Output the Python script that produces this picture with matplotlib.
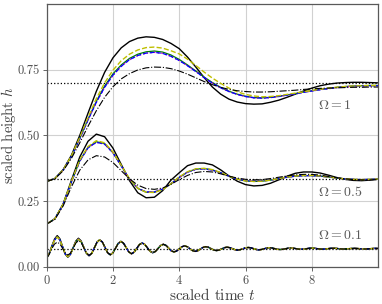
import numpy as np
import matplotlib
matplotlib.use("Agg")
import matplotlib.pyplot as plt
from matplotlib.ticker import FormatStrFormatter

plt.rcParams['font.family'] = 'serif'
plt.rcParams['font.serif'] = ['cmr10']
plt.rcParams['mathtext.fontset'] = 'cm'
plt.rcParams['axes.unicode_minus'] = False
plt.rcParams['axes.formatter.use_mathtext'] = True

# time samples (read every 0.25 for the slow cases, every 0.08 for Omega = 0.1)
t_slow = np.linspace(0, 10, 41)
t_fast = np.linspace(0, 10, 126)

# steady state heights
steady = [0.700, 0.333, 0.069]

# ---- Omega = 1 ----
h1_black = [0.325, 0.336, 0.370, 0.425, 0.500, 0.585, 0.668, 0.740, 0.795, 0.833,
            0.857, 0.870, 0.875, 0.873, 0.865, 0.850, 0.830, 0.798, 0.760, 0.720,
            0.684, 0.657, 0.638, 0.627, 0.621, 0.619, 0.620, 0.626, 0.634, 0.645,
            0.657, 0.669, 0.680, 0.689, 0.695, 0.699, 0.701, 0.702, 0.702, 0.701, 0.700]
h1_yellow = [0.325, 0.336, 0.369, 0.422, 0.492, 0.568, 0.640, 0.700, 0.748, 0.784,
             0.809, 0.825, 0.834, 0.836, 0.832, 0.822, 0.810, 0.790, 0.766, 0.741,
             0.718, 0.698, 0.680, 0.666, 0.656, 0.650, 0.647, 0.648, 0.651, 0.656,
             0.661, 0.666, 0.671, 0.676, 0.680, 0.683, 0.686, 0.688, 0.689, 0.690, 0.690]
h1_green = [0.325, 0.336, 0.369, 0.421, 0.489, 0.562, 0.630, 0.688, 0.734, 0.768,
            0.793, 0.809, 0.818, 0.821, 0.817, 0.806, 0.789, 0.768, 0.745, 0.722,
            0.701, 0.683, 0.668, 0.657, 0.649, 0.644, 0.643, 0.645, 0.649, 0.654,
            0.659, 0.665, 0.670, 0.675, 0.679, 0.683, 0.686, 0.688, 0.689, 0.690, 0.690]
h1_blue = [0.325, 0.336, 0.368, 0.420, 0.487, 0.559, 0.626, 0.683, 0.729, 0.763,
           0.788, 0.804, 0.813, 0.816, 0.812, 0.801, 0.785, 0.765, 0.743, 0.720,
           0.699, 0.681, 0.667, 0.656, 0.648, 0.643, 0.642, 0.644, 0.648, 0.653,
           0.658, 0.664, 0.669, 0.674, 0.678, 0.682, 0.685, 0.687, 0.688, 0.689, 0.689]
h1_dashdot = [0.325, 0.335, 0.366, 0.413, 0.472, 0.535, 0.594, 0.645, 0.685, 0.715,
              0.735, 0.749, 0.757, 0.760, 0.759, 0.754, 0.745, 0.733, 0.719, 0.705,
              0.693, 0.683, 0.675, 0.670, 0.667, 0.665, 0.665, 0.666, 0.668, 0.670,
              0.672, 0.675, 0.677, 0.679, 0.680, 0.681, 0.682, 0.683, 0.683, 0.684, 0.684]

# ---- Omega = 0.5 ----
h05_black = [0.163, 0.183, 0.240, 0.330, 0.418, 0.478, 0.505, 0.495, 0.452, 0.390,
             0.328, 0.282, 0.263, 0.265, 0.290, 0.330, 0.358, 0.385, 0.395, 0.395,
             0.388, 0.369, 0.346, 0.326, 0.313, 0.308, 0.310, 0.318, 0.331, 0.345,
             0.356, 0.361, 0.361, 0.357, 0.349, 0.340, 0.333, 0.329, 0.328, 0.330, 0.334]
h05_yellow = [0.163, 0.183, 0.239, 0.325, 0.406, 0.458, 0.480, 0.472, 0.437, 0.386,
              0.335, 0.299, 0.284, 0.283, 0.294, 0.316, 0.342, 0.362, 0.373, 0.375,
              0.370, 0.359, 0.345, 0.334, 0.327, 0.325, 0.326, 0.330, 0.336, 0.342,
              0.346, 0.348, 0.348, 0.346, 0.342, 0.338, 0.335, 0.333, 0.332, 0.333, 0.334]
h05_green = [0.163, 0.183, 0.239, 0.324, 0.404, 0.455, 0.476, 0.469, 0.435, 0.385,
             0.334, 0.299, 0.284, 0.284, 0.295, 0.316, 0.341, 0.361, 0.372, 0.374,
             0.369, 0.358, 0.345, 0.334, 0.327, 0.325, 0.326, 0.330, 0.336, 0.341,
             0.345, 0.347, 0.347, 0.345, 0.342, 0.338, 0.335, 0.333, 0.332, 0.333, 0.334]
h05_blue = [0.163, 0.183, 0.238, 0.323, 0.402, 0.453, 0.474, 0.467, 0.434, 0.384,
            0.334, 0.299, 0.285, 0.285, 0.296, 0.316, 0.340, 0.360, 0.371, 0.373,
            0.368, 0.358, 0.345, 0.334, 0.328, 0.326, 0.327, 0.330, 0.336, 0.341,
            0.345, 0.347, 0.347, 0.345, 0.342, 0.338, 0.335, 0.333, 0.332, 0.333, 0.334]
h05_dashdot = [0.163, 0.181, 0.232, 0.305, 0.368, 0.407, 0.423, 0.418, 0.397, 0.366,
               0.335, 0.311, 0.298, 0.295, 0.300, 0.314, 0.332, 0.348, 0.359, 0.363,
               0.361, 0.354, 0.345, 0.338, 0.333, 0.331, 0.332, 0.336, 0.341, 0.346,
               0.350, 0.352, 0.352, 0.349, 0.344, 0.339, 0.335, 0.332, 0.331, 0.331, 0.332]

# ---- Omega = 0.1 ----
h01_black = [0.033, 0.052, 0.080, 0.106, 0.119, 0.107, 0.078, 0.049, 0.037,
             0.048, 0.073, 0.098, 0.109, 0.099, 0.0755, 0.052, 0.042,
             0.051, 0.0725, 0.094, 0.103, 0.095, 0.0745, 0.054, 0.046,
             0.0535, 0.0715, 0.0895, 0.097, 0.090, 0.0735, 0.057, 0.050,
             0.056, 0.0705, 0.085, 0.091, 0.0855, 0.0725, 0.0595, 0.054,
             0.0587, 0.070, 0.0813, 0.086, 0.0818, 0.0715, 0.0612, 0.057,
             0.0604, 0.0685, 0.0766, 0.080, 0.0769, 0.0695, 0.0621, 0.059,
             0.0616, 0.068, 0.0744, 0.077, 0.0748, 0.0695, 0.0642, 0.062,
             0.0639, 0.0685, 0.0731, 0.075, 0.0734, 0.0695, 0.0656, 0.064,
             0.0655, 0.069, 0.0725, 0.074, 0.0727, 0.0695, 0.0663, 0.065,
             0.0662, 0.069, 0.0718, 0.073, 0.072, 0.0695, 0.067, 0.066,
             0.0669, 0.069, 0.0711, 0.072, 0.0713, 0.0695, 0.0677, 0.067,
             0.0677, 0.0693, 0.0708, 0.0715, 0.0709, 0.0695, 0.0681, 0.0675,
             0.068, 0.0693, 0.0705, 0.071, 0.0706, 0.0695, 0.0684, 0.068,
             0.0684, 0.0693, 0.0701, 0.0705, 0.0701, 0.0693, 0.0684, 0.068,
             0.0684, 0.0693, 0.0701, 0.0705, 0.070]
h01_color_start = [0.033, 0.051, 0.078, 0.102, 0.114, 0.103, 0.0765, 0.050, 0.039,
                   0.0485, 0.072, 0.0955, 0.105, 0.096, 0.0745, 0.053, 0.044]
h01_dashdot_start = [0.033, 0.048, 0.070, 0.087, 0.094, 0.088, 0.071, 0.053, 0.045,
                     0.0525, 0.071, 0.0905, 0.100, 0.094, 0.073, 0.052, 0.044]
h01_color = h01_color_start + h01_black[len(h01_color_start):]
h01_dashdot = h01_dashdot_start + h01_black[len(h01_dashdot_start):]

labels = [r'$\Omega = 1$', r'$\Omega = 0.5$', r'$\Omega = 0.1$']
label_pos = [(8.2, 0.613), (8.2, 0.285), (8.2, 0.118)]

fig = plt.figure(figsize=(3.82, 3.04), dpi=100)
ax = fig.add_axes([0.122, 0.122, 0.868, 0.865])

groups = [
    (t_slow, h1_black, h1_green, h1_blue, h1_yellow, h1_dashdot),
    (t_slow, h05_black, h05_green, h05_blue, h05_yellow, h05_dashdot),
    (t_fast, h01_black, h01_color, h01_color, h01_color, h01_dashdot),
]

for (t, hb, hg, hbl, hy, hd), hs in zip(groups, steady):
    ax.axhline(hs, color='k', ls=':', lw=0.9)
    ax.plot(t, hb, 'k-', lw=1.0)
    ax.plot(t, hg, color='g', ls='-', lw=0.9)
    ax.plot(t, hbl, color='m', ls=':', lw=1.0)
    ax.plot(t, hbl, color='b', ls='--', lw=0.9)
    ax.plot(t, hy, color='y', ls='--', lw=1.0)
    ax.plot(t, hd, 'k-.', lw=0.8)

for lab, (x, y) in zip(labels, label_pos):
    ax.text(x, y, lab, fontsize=10, va='center', ha='left', color='0.35')

ax.set_xlim(0, 10)
ax.set_ylim(0, 1.0)
ax.set_xticks([0, 2, 4, 6, 8])
ax.set_yticks([0, 0.25, 0.5, 0.75])
ax.yaxis.set_major_formatter(FormatStrFormatter('%.2f'))
ax.tick_params(labelsize=9, length=3, width=0.6, colors='0.3', pad=2)
ax.grid(True, color='0.82', lw=0.8)
for s in ax.spines.values():
    s.set_color('0.35')
    s.set_linewidth(0.9)

ax.set_xlabel(r'scaled time $t$', fontsize=11, color='0.25', labelpad=0)
ax.set_ylabel(r'scaled height $h$', fontsize=10.5, color='0.25')
ax.yaxis.set_label_coords(-0.086, 0.5)

fig.savefig('out.png', dpi=100)
